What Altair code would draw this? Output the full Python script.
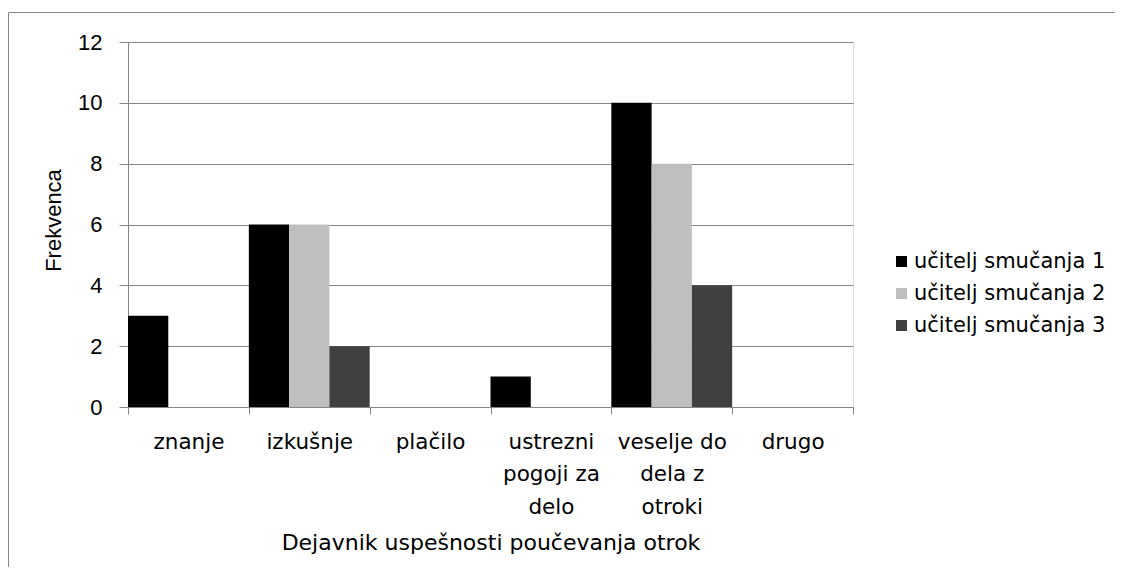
import altair as alt
import pandas as pd

categories = ["znanje", "izkušnje", "plačilo", "ustrezni|pogoji za|delo",
              "veselje do|dela z|otroki", "drugo"]
series = ["učitelj smučanja 1", "učitelj smučanja 2", "učitelj smučanja 3"]
values_1 = [3, 6, 0, 1, 10, 0]
values_2 = [0, 6, 0, 0, 8, 0]
values_3 = [0, 2, 0, 0, 4, 0]
colors = ["#000000", "#BFBFBF", "#404040"]
y_ticks = [0, 2, 4, 6, 8, 10, 12]

rows = []
for s, vals in zip(series, [values_1, values_2, values_3]):
    for c, v in zip(categories, vals):
        rows.append({"kategorija": c, "serija": s, "frekvenca": v})
df = pd.DataFrame(rows)

GRID = "#868686"

bars = alt.Chart(df).mark_bar().encode(
    x=alt.X("kategorija:N", sort=categories,
            scale=alt.Scale(paddingInner=0, paddingOuter=0),
            axis=alt.Axis(title="Dejavnik uspešnosti poučevanja otrok",
                          labelExpr="split(datum.label, '|')",
                          labelAngle=0, labelFont="DejaVu Sans", labelFontSize=21.5,
                          labelColor="#000", labelLineHeight=32.5, labelPadding=17,
                          labelBaseline="top",
                          tickBand="extent", tickSize=7, tickColor=GRID,
                          domainColor=GRID, grid=False,
                          titleFont="DejaVu Sans", titleFontSize=22,
                          titleFontWeight="normal", titleColor="#000",
                          titlePadding=15)),
    xOffset=alt.XOffset("serija:N", sort=series,
                        scale=alt.Scale(paddingInner=0, paddingOuter=0)),
    y=alt.Y("frekvenca:Q", scale=alt.Scale(domain=[0, 12], nice=False),
            axis=alt.Axis(title="Frekvenca", values=y_ticks, format="d",
                          labelFont="Liberation Sans", labelFontSize=22, labelColor="#000",
                          labelPadding=17, tickSize=9, tickColor=GRID,
                          domainColor=GRID, grid=True, gridColor=GRID,
                          titleFont="Liberation Sans", titleFontSize=22,
                          titleFontWeight="normal", titleColor="#000",
                          titlePadding=12, titleY=178)),
    color=alt.Color("serija:N", sort=series,
                    scale=alt.Scale(domain=series, range=colors),
                    legend=alt.Legend(title=None, orient="none", legendX=763,
                                      legendY=209, symbolType="square",
                                      symbolSize=121, symbolStrokeWidth=0,
                                      labelFont="DejaVu Sans", labelFontSize=21,
                                      labelColor="#000", labelOffset=2, labelLimit=0,
                                      rowPadding=10, padding=0)),
)

# decorative chart frame (Excel chart-area border), drawn in pixel space
frame_lines = pd.DataFrame({
    "fx": [-119.5, -119.5],
    "fx2": [-119.5, 990.0],
    "fy": [-29.5, -29.5],
    "fy2": [530.0, -29.5],
})
frame = alt.Chart(frame_lines).mark_rule(color=GRID, strokeWidth=1).encode(
    x=alt.X("fx:Q", scale=None, axis=None),
    x2="fx2:Q",
    y=alt.Y("fy:Q", scale=None, axis=None),
    y2="fy2:Q",
)

chart = alt.layer(bars, frame).resolve_scale(x="independent", y="independent").properties(
    width=725, height=365,
    autosize=alt.AutoSizeParams(type="none"),
    padding={"left": 120, "top": 34, "right": 262, "bottom": 160},
).configure_view(stroke=None).configure(background="white")

chart.save("out.html", embed_options={"renderer": "svg", "actions": False})
